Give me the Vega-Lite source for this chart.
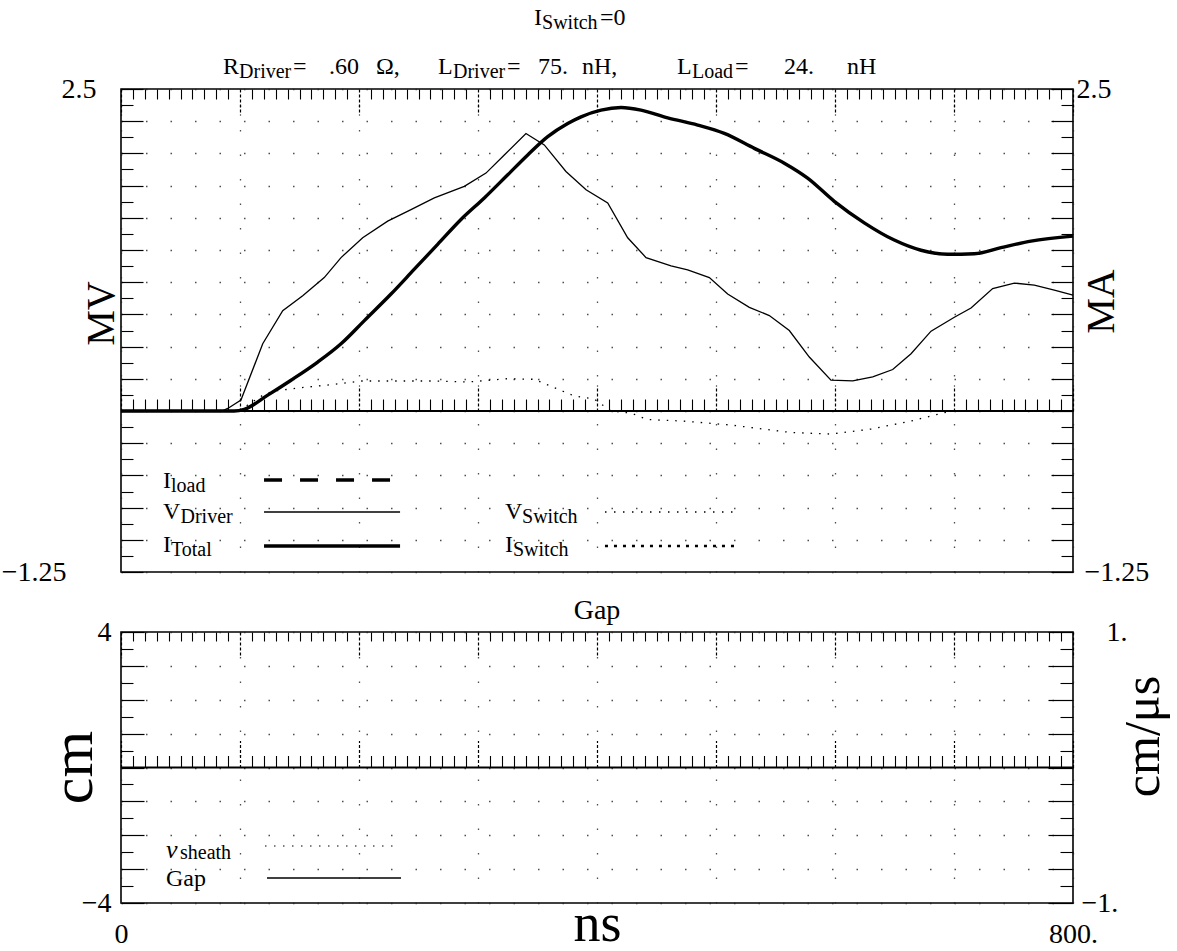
{
  "$schema": "https://vega.github.io/schema/vega-lite/v6.json",
  "background": "white",
  "padding": {"left": 0, "top": 5, "right": 5, "bottom": 0},
  "config": {
    "font": "Liberation Serif",
    "view": {"stroke": "#000", "strokeWidth": 1.6},
    "axis": {"labelFont": "Liberation Serif", "titleFont": "Liberation Serif", "labelColor": "#000", "titleColor": "#000", "tickColor": "#000", "titleFontWeight": "normal", "labelFlush": false, "labelOverlap": false, "tickWidth": 1.1, "gridColor": "#222", "gridDash": [1.5, 23], "gridWidth": 1.3, "gridOpacity": 0.8}
  },
  "datasets": {
    "curves": [
      {"series": "V_Driver", "ns": 0, "v": 0}, {"series": "V_Driver", "ns": 85, "v": 0}, {"series": "V_Driver", "ns": 89.7, "v": 0.02}, {"series": "V_Driver", "ns": 100.8, "v": 0.085}, {"series": "V_Driver", "ns": 119.1, "v": 0.522}, {"series": "V_Driver", "ns": 135.9, "v": 0.779}, {"series": "V_Driver", "ns": 152.7, "v": 0.895}, {"series": "V_Driver", "ns": 170.8, "v": 1.036}, {"series": "V_Driver", "ns": 184.9, "v": 1.191}, {"series": "V_Driver", "ns": 203.1, "v": 1.345}, {"series": "V_Driver", "ns": 224.1, "v": 1.474}, {"series": "V_Driver", "ns": 243.7, "v": 1.564}, {"series": "V_Driver", "ns": 263.3, "v": 1.654}, {"series": "V_Driver", "ns": 288.5, "v": 1.744}, {"series": "V_Driver", "ns": 306.7, "v": 1.847}, {"series": "V_Driver", "ns": 322.1, "v": 1.988}, {"series": "V_Driver", "ns": 340.3, "v": 2.154}, {"series": "V_Driver", "ns": 355.7, "v": 2.066}, {"series": "V_Driver", "ns": 373.9, "v": 1.86}, {"series": "V_Driver", "ns": 390.8, "v": 1.718}, {"series": "V_Driver", "ns": 409, "v": 1.615}, {"series": "V_Driver", "ns": 425.8, "v": 1.345}, {"series": "V_Driver", "ns": 441.2, "v": 1.191}, {"series": "V_Driver", "ns": 462.2, "v": 1.127}, {"series": "V_Driver", "ns": 476.2, "v": 1.096}, {"series": "V_Driver", "ns": 494.4, "v": 1.036}, {"series": "V_Driver", "ns": 509.8, "v": 0.908}, {"series": "V_Driver", "ns": 528, "v": 0.805}, {"series": "V_Driver", "ns": 544.8, "v": 0.741}, {"series": "V_Driver", "ns": 561.6, "v": 0.625}, {"series": "V_Driver", "ns": 578.4, "v": 0.419}, {"series": "V_Driver", "ns": 596.6, "v": 0.239}, {"series": "V_Driver", "ns": 614.9, "v": 0.234}, {"series": "V_Driver", "ns": 631.7, "v": 0.265}, {"series": "V_Driver", "ns": 648.5, "v": 0.322}, {"series": "V_Driver", "ns": 663.9, "v": 0.445}, {"series": "V_Driver", "ns": 680.7, "v": 0.62}, {"series": "V_Driver", "ns": 700.3, "v": 0.728}, {"series": "V_Driver", "ns": 714.3, "v": 0.8}, {"series": "V_Driver", "ns": 732.5, "v": 0.951}, {"series": "V_Driver", "ns": 750.7, "v": 0.993}, {"series": "V_Driver", "ns": 767.5, "v": 0.978}, {"series": "V_Driver", "ns": 784.3, "v": 0.939}, {"series": "V_Driver", "ns": 800, "v": 0.9},
      {"series": "I_Total", "ns": 0, "v": 0}, {"series": "I_Total", "ns": 95, "v": 0}, {"series": "I_Total", "ns": 103.6, "v": 0.013}, {"series": "I_Total", "ns": 123.3, "v": 0.123}, {"series": "I_Total", "ns": 142.9, "v": 0.239}, {"series": "I_Total", "ns": 165.3, "v": 0.38}, {"series": "I_Total", "ns": 184.9, "v": 0.522}, {"series": "I_Total", "ns": 204.5, "v": 0.702}, {"series": "I_Total", "ns": 226.9, "v": 0.908}, {"series": "I_Total", "ns": 246.5, "v": 1.101}, {"series": "I_Total", "ns": 266.1, "v": 1.294}, {"series": "I_Total", "ns": 285.7, "v": 1.487}, {"series": "I_Total", "ns": 305.3, "v": 1.654}, {"series": "I_Total", "ns": 325, "v": 1.834}, {"series": "I_Total", "ns": 341.8, "v": 1.988}, {"series": "I_Total", "ns": 358.6, "v": 2.13}, {"series": "I_Total", "ns": 375.4, "v": 2.232}, {"series": "I_Total", "ns": 386.6, "v": 2.284}, {"series": "I_Total", "ns": 403.4, "v": 2.336}, {"series": "I_Total", "ns": 420.2, "v": 2.356}, {"series": "I_Total", "ns": 437, "v": 2.336}, {"series": "I_Total", "ns": 459.4, "v": 2.276}, {"series": "I_Total", "ns": 484.6, "v": 2.22}, {"series": "I_Total", "ns": 507, "v": 2.155}, {"series": "I_Total", "ns": 532.2, "v": 2.039}, {"series": "I_Total", "ns": 557.4, "v": 1.924}, {"series": "I_Total", "ns": 577, "v": 1.808}, {"series": "I_Total", "ns": 599.4, "v": 1.628}, {"series": "I_Total", "ns": 624.6, "v": 1.461}, {"series": "I_Total", "ns": 649.8, "v": 1.327}, {"series": "I_Total", "ns": 672.3, "v": 1.248}, {"series": "I_Total", "ns": 694.7, "v": 1.217}, {"series": "I_Total", "ns": 717.1, "v": 1.221}, {"series": "I_Total", "ns": 739.5, "v": 1.268}, {"series": "I_Total", "ns": 764.7, "v": 1.319}, {"series": "I_Total", "ns": 800, "v": 1.358},
      {"series": "V_Switch", "ns": 0, "v": 0}, {"series": "V_Switch", "ns": 100, "v": 0}, {"series": "V_Switch", "ns": 106.5, "v": 0.047}, {"series": "V_Switch", "ns": 120.4, "v": 0.13}, {"series": "V_Switch", "ns": 128.8, "v": 0.155}, {"series": "V_Switch", "ns": 151.3, "v": 0.181}, {"series": "V_Switch", "ns": 179.2, "v": 0.207}, {"series": "V_Switch", "ns": 201.7, "v": 0.233}, {"series": "V_Switch", "ns": 235.3, "v": 0.233}, {"series": "V_Switch", "ns": 263, "v": 0.233}, {"series": "V_Switch", "ns": 291.3, "v": 0.225}, {"series": "V_Switch", "ns": 325, "v": 0.251}, {"series": "V_Switch", "ns": 347.3, "v": 0.246}, {"series": "V_Switch", "ns": 364.1, "v": 0.181}, {"series": "V_Switch", "ns": 381, "v": 0.116}, {"series": "V_Switch", "ns": 397.5, "v": 0.093}, {"series": "V_Switch", "ns": 411.8, "v": 0}, {"series": "V_Switch", "ns": 428.6, "v": -0.016}, {"series": "V_Switch", "ns": 442, "v": -0.066}, {"series": "V_Switch", "ns": 472.3, "v": -0.078}, {"series": "V_Switch", "ns": 512.6, "v": -0.109}, {"series": "V_Switch", "ns": 563, "v": -0.167}, {"series": "V_Switch", "ns": 596.6, "v": -0.179}, {"series": "V_Switch", "ns": 630.3, "v": -0.14}, {"series": "V_Switch", "ns": 663.9, "v": -0.078}, {"series": "V_Switch", "ns": 684, "v": -0.031}, {"series": "V_Switch", "ns": 697.5, "v": 0}, {"series": "V_Switch", "ns": 800, "v": 0},
      {"series": "I_Switch", "ns": 0, "v": 0}, {"series": "I_Switch", "ns": 800, "v": 0},
      {"series": "Gap", "ns": 0, "v": 0}, {"series": "Gap", "ns": 800, "v": 0},
      {"series": "nu_sheath", "ns": 0, "v": 0}, {"series": "nu_sheath", "ns": 800, "v": 0}
    ]
  },
  "vconcat": [
    {
      "width": 952,
      "height": 483,
      "resolve": {"axis": {"x": "independent", "y": "independent"}},
      "layer": [
        {
          "data": {"values": [{}]},
          "mark": {"type": "rule", "color": "#000", "strokeWidth": 2},
          "encoding": {
            "y": {"datum": 0, "type": "quantitative", "scale": {"domain": [-1.25, 2.5], "nice": false, "zero": false},
              "axis": {"orient": "right", "values": [-1.25, -1, -0.75, -0.5, -0.25, 0, 0.25, 0.5, 0.75, 1, 1.25, 1.5, 1.75, 2, 2.25, 2.5], "domain": false, "labels": false, "ticks": true, "tickSize": -22, "tickWidth": 1.2, "grid": false, "title": null}}
          }
        },
        {
          "data": {"name": "curves"},
          "transform": [{"filter": "datum.series == 'V_Driver'"}],
          "mark": {"type": "line", "color": "#000", "strokeWidth": 1.3},
          "encoding": {
            "x": {"field": "ns", "type": "quantitative", "scale": {"domain": [0, 800], "nice": false, "zero": false},
              "axis": {"orient": "top", "values": [0, 100, 200, 300, 400, 500, 600, 700, 800], "domain": false, "labels": false, "ticks": true, "tickSize": -26, "tickDash": [3, 2], "tickWidth": 1.2, "grid": true, "title": null}},
            "y": {"field": "v", "type": "quantitative", "scale": {"domain": [-1.25, 2.5], "nice": false, "zero": false},
              "axis": {"orient": "left", "values": [2.5], "labelExpr": "'2.5'", "domain": false, "ticks": false, "grid": false, "labels": true, "labelPadding": 25, "labelFontSize": 28, "title": "MV", "titleFontSize": 40, "titleAngle": 270, "titleAlign": "center", "titleBaseline": "middle", "titleX": -20, "titleY": 224}}
          }
        },
        {
          "data": {"name": "curves"},
          "transform": [{"filter": "datum.series == 'I_Total'"}],
          "mark": {"type": "line", "color": "#000", "strokeWidth": 3.4, "interpolate": "monotone"},
          "encoding": {
            "x": {"field": "ns", "type": "quantitative", "scale": {"domain": [0, 800], "nice": false, "zero": false},
              "axis": {"orient": "top", "values": [10, 20, 30, 40, 50, 60, 70, 80, 90, 110, 120, 130, 140, 150, 160, 170, 180, 190, 210, 220, 230, 240, 250, 260, 270, 280, 290, 310, 320, 330, 340, 350, 360, 370, 380, 390, 410, 420, 430, 440, 450, 460, 470, 480, 490, 510, 520, 530, 540, 550, 560, 570, 580, 590, 610, 620, 630, 640, 650, 660, 670, 680, 690, 710, 720, 730, 740, 750, 760, 770, 780, 790], "domain": false, "labels": false, "ticks": true, "tickSize": -10, "grid": false, "title": null}},
            "y": {"field": "v", "type": "quantitative", "scale": {"domain": [-1.25, 2.5], "nice": false, "zero": false},
              "axis": {"orient": "left", "values": [-1.25], "labelExpr": "'−1.25'", "domain": false, "ticks": false, "grid": false, "labels": true, "labelPadding": 55, "labelFontSize": 28, "title": null}}
          }
        },
        {
          "data": {"name": "curves"},
          "transform": [{"filter": "datum.series == 'V_Switch'"}],
          "mark": {"type": "line", "color": "#000", "strokeWidth": 1.3, "strokeDash": [1.5, 7]},
          "encoding": {
            "x": {"field": "ns", "type": "quantitative", "scale": {"domain": [0, 800], "nice": false, "zero": false},
              "axis": {"orient": "top", "offset": -322, "values": [0, 100, 200, 300, 400, 500, 600, 700, 800], "domain": false, "labels": false, "ticks": true, "tickSize": 26, "tickDash": [3, 2], "tickWidth": 1.2, "grid": false, "title": null}},
            "y": {"field": "v", "type": "quantitative", "scale": {"domain": [-1.25, 2.5], "nice": false, "zero": false},
              "axis": {"orient": "left", "values": [-1.25, -1, -0.75, -0.5, -0.25, 0, 0.25, 0.5, 0.75, 1, 1.25, 1.5, 1.75, 2, 2.25, 2.5], "domain": false, "labels": false, "ticks": true, "tickSize": -22, "tickWidth": 1.2, "grid": true, "title": null}}
          }
        },
        {
          "data": {"name": "curves"},
          "transform": [{"filter": "datum.series == 'I_Switch'"}],
          "mark": {"type": "line", "color": "#000", "strokeWidth": 2.2, "strokeDash": [3, 6]},
          "encoding": {
            "x": {"field": "ns", "type": "quantitative", "scale": {"domain": [0, 800], "nice": false, "zero": false},
              "axis": {"orient": "top", "offset": -322, "values": [10, 20, 30, 40, 50, 60, 70, 80, 90, 110, 120, 130, 140, 150, 160, 170, 180, 190, 210, 220, 230, 240, 250, 260, 270, 280, 290, 310, 320, 330, 340, 350, 360, 370, 380, 390, 410, 420, 430, 440, 450, 460, 470, 480, 490, 510, 520, 530, 540, 550, 560, 570, 580, 590, 610, 620, 630, 640, 650, 660, 670, 680, 690, 710, 720, 730, 740, 750, 760, 770, 780, 790], "domain": false, "labels": false, "ticks": true, "tickSize": 12, "grid": false, "title": null}},
            "y": {"field": "v", "type": "quantitative", "scale": {"domain": [-1.25, 2.5], "nice": false, "zero": false},
              "axis": {"orient": "left", "values": [-1.125, -0.875, -0.625, -0.375, -0.125, 0.125, 0.375, 0.625, 0.875, 1.125, 1.375, 1.625, 1.875, 2.125, 2.375], "domain": false, "labels": false, "ticks": true, "tickSize": -12, "grid": false, "title": null}}
          }
        },
        {
          "data": {"values": [{}]},
          "mark": {"type": "rule", "color": "#000", "strokeWidth": 3.6, "strokeDash": [18, 18]},
          "encoding": {
            "x": {"datum": 120.2, "type": "quantitative", "scale": {"domain": [0, 800], "nice": false, "zero": false}, "axis": null},
            "x2": {"datum": 226.9},
            "y": {"datum": -0.536, "type": "quantitative", "scale": {"domain": [-1.25, 2.5], "nice": false, "zero": false},
              "axis": {"orient": "right", "values": [-1.125, -0.875, -0.625, -0.375, -0.125, 0.125, 0.375, 0.625, 0.875, 1.125, 1.375, 1.625, 1.875, 2.125, 2.375], "domain": false, "labels": false, "ticks": true, "tickSize": -12, "grid": false, "title": null}}
          }
        },
        {
          "data": {"values": [{}]},
          "mark": {"type": "rule", "color": "#000", "strokeWidth": 1.3},
          "encoding": {
            "x": {"datum": 120.2, "type": "quantitative", "scale": {"domain": [0, 800], "nice": false, "zero": false}, "axis": null},
            "x2": {"datum": 234.5},
            "y": {"datum": -0.784, "type": "quantitative", "scale": {"domain": [-1.25, 2.5], "nice": false, "zero": false},
              "axis": {"orient": "right", "values": [2.5], "labelExpr": "'2.5'", "domain": false, "ticks": false, "grid": false, "labels": true, "labelPadding": 3, "labelFontSize": 28, "title": "MA", "titleFontSize": 40, "titleAngle": 270, "titleAlign": "center", "titleBaseline": "middle", "titleX": 28, "titleY": 212}}
          }
        },
        {
          "data": {"values": [{}]},
          "mark": {"type": "rule", "color": "#000", "strokeWidth": 3.4},
          "encoding": {
            "x": {"datum": 120.2, "type": "quantitative", "scale": {"domain": [0, 800], "nice": false, "zero": false}, "axis": null},
            "x2": {"datum": 234.5},
            "y": {"datum": -1.048, "type": "quantitative", "scale": {"domain": [-1.25, 2.5], "nice": false, "zero": false},
              "axis": {"orient": "right", "values": [-1.25], "labelExpr": "'−1.25'", "domain": false, "ticks": false, "grid": false, "labels": true, "labelPadding": 11, "labelFontSize": 28, "title": null}}
          }
        },
        {
          "data": {"values": [{}]},
          "mark": {"type": "rule", "color": "#000", "strokeWidth": 1.3, "strokeDash": [1.5, 7.5]},
          "encoding": {
            "x": {"datum": 406.7, "type": "quantitative", "scale": {"domain": [0, 800], "nice": false, "zero": false}, "axis": null},
            "x2": {"datum": 517.6},
            "y": {"datum": -0.784, "type": "quantitative", "scale": {"domain": [-1.25, 2.5], "nice": false, "zero": false}, "axis": null}
          }
        },
        {
          "data": {"values": [{}]},
          "mark": {"type": "rule", "color": "#000", "strokeWidth": 2.4, "strokeDash": [3, 6]},
          "encoding": {
            "x": {"datum": 406.7, "type": "quantitative", "scale": {"domain": [0, 800], "nice": false, "zero": false}, "axis": null},
            "x2": {"datum": 517.6},
            "y": {"datum": -1.048, "type": "quantitative", "scale": {"domain": [-1.25, 2.5], "nice": false, "zero": false}, "axis": null}
          }
        },
        {"data": {"values": [{}]}, "mark": {"type": "text", "text": "I", "align": "left", "baseline": "alphabetic", "fontSize": 24, "color": "#000"},
         "encoding": {"x": {"datum": 347.1, "type": "quantitative", "scale": {"domain": [0, 800], "nice": false, "zero": false}, "axis": null}, "y": {"datum": 2.997, "type": "quantitative", "scale": {"domain": [-1.25, 2.5], "nice": false, "zero": false}, "axis": null}}},
        {"data": {"values": [{}]}, "mark": {"type": "text", "text": "Switch", "align": "left", "baseline": "alphabetic", "fontSize": 20, "color": "#000"},
         "encoding": {"x": {"datum": 353.8, "type": "quantitative", "scale": {"domain": [0, 800], "nice": false, "zero": false}, "axis": null}, "y": {"datum": 2.966, "type": "quantitative", "scale": {"domain": [-1.25, 2.5], "nice": false, "zero": false}, "axis": null}}},
        {"data": {"values": [{}]}, "mark": {"type": "text", "text": "=0", "align": "left", "baseline": "alphabetic", "fontSize": 24, "color": "#000"},
         "encoding": {"x": {"datum": 402.5, "type": "quantitative", "scale": {"domain": [0, 800], "nice": false, "zero": false}, "axis": null}, "y": {"datum": 2.997, "type": "quantitative", "scale": {"domain": [-1.25, 2.5], "nice": false, "zero": false}, "axis": null}}},
        {"data": {"values": [{}]}, "mark": {"type": "text", "text": "R", "align": "left", "baseline": "alphabetic", "fontSize": 24, "color": "#000"},
         "encoding": {"x": {"datum": 85.7, "type": "quantitative", "scale": {"domain": [0, 800], "nice": false, "zero": false}, "axis": null}, "y": {"datum": 2.616, "type": "quantitative", "scale": {"domain": [-1.25, 2.5], "nice": false, "zero": false}, "axis": null}}},
        {"data": {"values": [{}]}, "mark": {"type": "text", "text": "Driver", "align": "left", "baseline": "alphabetic", "fontSize": 20, "color": "#000"},
         "encoding": {"x": {"datum": 99.2, "type": "quantitative", "scale": {"domain": [0, 800], "nice": false, "zero": false}, "axis": null}, "y": {"datum": 2.585, "type": "quantitative", "scale": {"domain": [-1.25, 2.5], "nice": false, "zero": false}, "axis": null}}},
        {"data": {"values": [{}]}, "mark": {"type": "text", "text": "=", "align": "left", "baseline": "alphabetic", "fontSize": 24, "color": "#000"},
         "encoding": {"x": {"datum": 144.5, "type": "quantitative", "scale": {"domain": [0, 800], "nice": false, "zero": false}, "axis": null}, "y": {"datum": 2.616, "type": "quantitative", "scale": {"domain": [-1.25, 2.5], "nice": false, "zero": false}, "axis": null}}},
        {"data": {"values": [{}]}, "mark": {"type": "text", "text": ".60", "align": "left", "baseline": "alphabetic", "fontSize": 24, "color": "#000"},
         "encoding": {"x": {"datum": 174.8, "type": "quantitative", "scale": {"domain": [0, 800], "nice": false, "zero": false}, "axis": null}, "y": {"datum": 2.616, "type": "quantitative", "scale": {"domain": [-1.25, 2.5], "nice": false, "zero": false}, "axis": null}}},
        {"data": {"values": [{}]}, "mark": {"type": "text", "text": "Ω,", "align": "left", "baseline": "alphabetic", "fontSize": 24, "color": "#000"},
         "encoding": {"x": {"datum": 214.3, "type": "quantitative", "scale": {"domain": [0, 800], "nice": false, "zero": false}, "axis": null}, "y": {"datum": 2.616, "type": "quantitative", "scale": {"domain": [-1.25, 2.5], "nice": false, "zero": false}, "axis": null}}},
        {"data": {"values": [{}]}, "mark": {"type": "text", "text": "L", "align": "left", "baseline": "alphabetic", "fontSize": 24, "color": "#000"},
         "encoding": {"x": {"datum": 266.4, "type": "quantitative", "scale": {"domain": [0, 800], "nice": false, "zero": false}, "axis": null}, "y": {"datum": 2.616, "type": "quantitative", "scale": {"domain": [-1.25, 2.5], "nice": false, "zero": false}, "axis": null}}},
        {"data": {"values": [{}]}, "mark": {"type": "text", "text": "Driver", "align": "left", "baseline": "alphabetic", "fontSize": 20, "color": "#000"},
         "encoding": {"x": {"datum": 279.0, "type": "quantitative", "scale": {"domain": [0, 800], "nice": false, "zero": false}, "axis": null}, "y": {"datum": 2.585, "type": "quantitative", "scale": {"domain": [-1.25, 2.5], "nice": false, "zero": false}, "axis": null}}},
        {"data": {"values": [{}]}, "mark": {"type": "text", "text": "=", "align": "left", "baseline": "alphabetic", "fontSize": 24, "color": "#000"},
         "encoding": {"x": {"datum": 324.4, "type": "quantitative", "scale": {"domain": [0, 800], "nice": false, "zero": false}, "axis": null}, "y": {"datum": 2.616, "type": "quantitative", "scale": {"domain": [-1.25, 2.5], "nice": false, "zero": false}, "axis": null}}},
        {"data": {"values": [{}]}, "mark": {"type": "text", "text": "75.", "align": "left", "baseline": "alphabetic", "fontSize": 24, "color": "#000"},
         "encoding": {"x": {"datum": 350.4, "type": "quantitative", "scale": {"domain": [0, 800], "nice": false, "zero": false}, "axis": null}, "y": {"datum": 2.616, "type": "quantitative", "scale": {"domain": [-1.25, 2.5], "nice": false, "zero": false}, "axis": null}}},
        {"data": {"values": [{}]}, "mark": {"type": "text", "text": "nH,", "align": "left", "baseline": "alphabetic", "fontSize": 24, "color": "#000"},
         "encoding": {"x": {"datum": 387.4, "type": "quantitative", "scale": {"domain": [0, 800], "nice": false, "zero": false}, "axis": null}, "y": {"datum": 2.616, "type": "quantitative", "scale": {"domain": [-1.25, 2.5], "nice": false, "zero": false}, "axis": null}}},
        {"data": {"values": [{}]}, "mark": {"type": "text", "text": "L", "align": "left", "baseline": "alphabetic", "fontSize": 24, "color": "#000"},
         "encoding": {"x": {"datum": 467.2, "type": "quantitative", "scale": {"domain": [0, 800], "nice": false, "zero": false}, "axis": null}, "y": {"datum": 2.616, "type": "quantitative", "scale": {"domain": [-1.25, 2.5], "nice": false, "zero": false}, "axis": null}}},
        {"data": {"values": [{}]}, "mark": {"type": "text", "text": "Load", "align": "left", "baseline": "alphabetic", "fontSize": 20, "color": "#000"},
         "encoding": {"x": {"datum": 479.8, "type": "quantitative", "scale": {"domain": [0, 800], "nice": false, "zero": false}, "axis": null}, "y": {"datum": 2.585, "type": "quantitative", "scale": {"domain": [-1.25, 2.5], "nice": false, "zero": false}, "axis": null}}},
        {"data": {"values": [{}]}, "mark": {"type": "text", "text": "=", "align": "left", "baseline": "alphabetic", "fontSize": 24, "color": "#000"},
         "encoding": {"x": {"datum": 516.0, "type": "quantitative", "scale": {"domain": [0, 800], "nice": false, "zero": false}, "axis": null}, "y": {"datum": 2.616, "type": "quantitative", "scale": {"domain": [-1.25, 2.5], "nice": false, "zero": false}, "axis": null}}},
        {"data": {"values": [{}]}, "mark": {"type": "text", "text": "24.", "align": "left", "baseline": "alphabetic", "fontSize": 24, "color": "#000"},
         "encoding": {"x": {"datum": 557.1, "type": "quantitative", "scale": {"domain": [0, 800], "nice": false, "zero": false}, "axis": null}, "y": {"datum": 2.616, "type": "quantitative", "scale": {"domain": [-1.25, 2.5], "nice": false, "zero": false}, "axis": null}}},
        {"data": {"values": [{}]}, "mark": {"type": "text", "text": "nH", "align": "left", "baseline": "alphabetic", "fontSize": 24, "color": "#000"},
         "encoding": {"x": {"datum": 610.1, "type": "quantitative", "scale": {"domain": [0, 800], "nice": false, "zero": false}, "axis": null}, "y": {"datum": 2.616, "type": "quantitative", "scale": {"domain": [-1.25, 2.5], "nice": false, "zero": false}, "axis": null}}},
        {"data": {"values": [{}]}, "mark": {"type": "text", "text": "I", "align": "left", "baseline": "alphabetic", "fontSize": 24, "color": "#000"},
         "encoding": {"x": {"datum": 35.3, "type": "quantitative", "scale": {"domain": [0, 800], "nice": false, "zero": false}, "axis": null}, "y": {"datum": -0.598, "type": "quantitative", "scale": {"domain": [-1.25, 2.5], "nice": false, "zero": false}, "axis": null}}},
        {"data": {"values": [{}]}, "mark": {"type": "text", "text": "load", "align": "left", "baseline": "alphabetic", "fontSize": 20, "color": "#000"},
         "encoding": {"x": {"datum": 42.0, "type": "quantitative", "scale": {"domain": [0, 800], "nice": false, "zero": false}, "axis": null}, "y": {"datum": -0.629, "type": "quantitative", "scale": {"domain": [-1.25, 2.5], "nice": false, "zero": false}, "axis": null}}},
        {"data": {"values": [{}]}, "mark": {"type": "text", "text": "V", "align": "left", "baseline": "alphabetic", "fontSize": 24, "color": "#000"},
         "encoding": {"x": {"datum": 35.3, "type": "quantitative", "scale": {"domain": [0, 800], "nice": false, "zero": false}, "axis": null}, "y": {"datum": -0.839, "type": "quantitative", "scale": {"domain": [-1.25, 2.5], "nice": false, "zero": false}, "axis": null}}},
        {"data": {"values": [{}]}, "mark": {"type": "text", "text": "Driver", "align": "left", "baseline": "alphabetic", "fontSize": 20, "color": "#000"},
         "encoding": {"x": {"datum": 50.0, "type": "quantitative", "scale": {"domain": [0, 800], "nice": false, "zero": false}, "axis": null}, "y": {"datum": -0.87, "type": "quantitative", "scale": {"domain": [-1.25, 2.5], "nice": false, "zero": false}, "axis": null}}},
        {"data": {"values": [{}]}, "mark": {"type": "text", "text": "I", "align": "left", "baseline": "alphabetic", "fontSize": 24, "color": "#000"},
         "encoding": {"x": {"datum": 35.3, "type": "quantitative", "scale": {"domain": [0, 800], "nice": false, "zero": false}, "axis": null}, "y": {"datum": -1.095, "type": "quantitative", "scale": {"domain": [-1.25, 2.5], "nice": false, "zero": false}, "axis": null}}},
        {"data": {"values": [{}]}, "mark": {"type": "text", "text": "Total", "align": "left", "baseline": "alphabetic", "fontSize": 20, "color": "#000"},
         "encoding": {"x": {"datum": 42.0, "type": "quantitative", "scale": {"domain": [0, 800], "nice": false, "zero": false}, "axis": null}, "y": {"datum": -1.126, "type": "quantitative", "scale": {"domain": [-1.25, 2.5], "nice": false, "zero": false}, "axis": null}}},
        {"data": {"values": [{}]}, "mark": {"type": "text", "text": "V", "align": "left", "baseline": "alphabetic", "fontSize": 24, "color": "#000"},
         "encoding": {"x": {"datum": 322.7, "type": "quantitative", "scale": {"domain": [0, 800], "nice": false, "zero": false}, "axis": null}, "y": {"datum": -0.839, "type": "quantitative", "scale": {"domain": [-1.25, 2.5], "nice": false, "zero": false}, "axis": null}}},
        {"data": {"values": [{}]}, "mark": {"type": "text", "text": "Switch", "align": "left", "baseline": "alphabetic", "fontSize": 20, "color": "#000"},
         "encoding": {"x": {"datum": 337.0, "type": "quantitative", "scale": {"domain": [0, 800], "nice": false, "zero": false}, "axis": null}, "y": {"datum": -0.87, "type": "quantitative", "scale": {"domain": [-1.25, 2.5], "nice": false, "zero": false}, "axis": null}}},
        {"data": {"values": [{}]}, "mark": {"type": "text", "text": "I", "align": "left", "baseline": "alphabetic", "fontSize": 24, "color": "#000"},
         "encoding": {"x": {"datum": 322.7, "type": "quantitative", "scale": {"domain": [0, 800], "nice": false, "zero": false}, "axis": null}, "y": {"datum": -1.095, "type": "quantitative", "scale": {"domain": [-1.25, 2.5], "nice": false, "zero": false}, "axis": null}}},
        {"data": {"values": [{}]}, "mark": {"type": "text", "text": "Switch", "align": "left", "baseline": "alphabetic", "fontSize": 20, "color": "#000"},
         "encoding": {"x": {"datum": 329.4, "type": "quantitative", "scale": {"domain": [0, 800], "nice": false, "zero": false}, "axis": null}, "y": {"datum": -1.126, "type": "quantitative", "scale": {"domain": [-1.25, 2.5], "nice": false, "zero": false}, "axis": null}}}
      ]
    },
    {
      "width": 952,
      "height": 271,
      "title": {"text": "Gap", "fontSize": 28, "fontWeight": "normal", "font": "Liberation Serif", "color": "#000", "offset": 3, "dy": 10},
      "resolve": {"axis": {"x": "independent", "y": "independent"}},
      "layer": [
        {
          "data": {"name": "curves"},
          "transform": [{"filter": "datum.series == 'Gap'"}],
          "mark": {"type": "line", "color": "#000", "strokeWidth": 1.8},
          "encoding": {
            "x": {"field": "ns", "type": "quantitative", "scale": {"domain": [0, 800], "nice": false, "zero": false},
              "axis": {"orient": "bottom", "values": [0, 800], "labelExpr": "datum.value == 0 ? '0' : '800.'", "domain": false, "ticks": false, "grid": false, "labels": true, "labelPadding": 17, "labelFontSize": 28, "title": "ns", "titleFontSize": 54, "titleAlign": "center", "titleBaseline": "alphabetic", "titleX": 476, "titleY": 37}},
            "y": {"field": "v", "type": "quantitative", "scale": {"domain": [-4, 4], "nice": false, "zero": false},
              "axis": {"orient": "left", "values": [4, -4], "labelExpr": "datum.value > 0 ? '4' : '−4'", "domain": false, "ticks": false, "grid": false, "labels": true, "labelPadding": 10, "labelFontSize": 28, "title": "cm", "titleFontSize": 60, "titleAngle": 270, "titleAlign": "center", "titleBaseline": "middle", "titleX": -48, "titleY": 135}}
          }
        },
        {
          "data": {"name": "curves"},
          "transform": [{"filter": "datum.series == 'nu_sheath'"}],
          "mark": {"type": "line", "color": "#000", "strokeWidth": 1.2, "strokeDash": [1.5, 7.5]},
          "encoding": {
            "x": {"field": "ns", "type": "quantitative", "scale": {"domain": [0, 800], "nice": false, "zero": false},
              "axis": {"orient": "top", "values": [0, 100, 200, 300, 400, 500, 600, 700, 800], "domain": false, "labels": false, "ticks": true, "tickSize": -25, "tickDash": [3, 2], "tickWidth": 1.2, "grid": true, "title": null}},
            "y": {"field": "v", "type": "quantitative", "scale": {"domain": [-4, 4], "nice": false, "zero": false},
              "axis": {"orient": "left", "values": [-4, -3, -2, -1, 0, 1, 2, 3, 4], "domain": false, "labels": false, "ticks": true, "tickSize": -23, "tickWidth": 1.2, "grid": true, "title": null}}
          }
        },
        {
          "data": {"values": [{}]},
          "mark": {"type": "rule", "color": "#000", "strokeWidth": 1.2, "strokeDash": [1.5, 7.5]},
          "encoding": {
            "x": {"datum": 121, "type": "quantitative", "scale": {"domain": [0, 800], "nice": false, "zero": false},
              "axis": {"orient": "top", "values": [10, 20, 30, 40, 50, 60, 70, 80, 90, 110, 120, 130, 140, 150, 160, 170, 180, 190, 210, 220, 230, 240, 250, 260, 270, 280, 290, 310, 320, 330, 340, 350, 360, 370, 380, 390, 410, 420, 430, 440, 450, 460, 470, 480, 490, 510, 520, 530, 540, 550, 560, 570, 580, 590, 610, 620, 630, 640, 650, 660, 670, 680, 690, 710, 720, 730, 740, 750, 760, 770, 780, 790], "domain": false, "labels": false, "ticks": true, "tickSize": -9, "grid": false, "title": null}},
            "x2": {"datum": 232},
            "y": {"datum": -2.317, "type": "quantitative", "scale": {"domain": [-4, 4], "nice": false, "zero": false},
              "axis": {"orient": "left", "values": [-3.5, -2.5, -1.5, -0.5, 0.5, 1.5, 2.5, 3.5], "domain": false, "labels": false, "ticks": true, "tickSize": -12, "grid": false, "title": null}}
          }
        },
        {
          "data": {"values": [{}]},
          "mark": {"type": "rule", "color": "#000", "strokeWidth": 1.5},
          "encoding": {
            "x": {"datum": 122.7, "type": "quantitative", "scale": {"domain": [0, 800], "nice": false, "zero": false},
              "axis": {"orient": "top", "offset": -135.5, "values": [0, 100, 200, 300, 400, 500, 600, 700, 800], "domain": false, "labels": false, "ticks": true, "tickSize": 27, "tickDash": [3, 2], "tickWidth": 1.2, "grid": false, "title": null}},
            "x2": {"datum": 235.3},
            "y": {"datum": -3.262, "type": "quantitative", "scale": {"domain": [-4, 4], "nice": false, "zero": false},
              "axis": {"orient": "right", "values": [4], "labelExpr": "'1.'", "domain": false, "ticks": false, "grid": false, "labels": true, "labelPadding": 33, "labelFontSize": 28, "title": "cm/μs", "titleFontSize": 50, "titleAngle": 270, "titleAlign": "center", "titleBaseline": "middle", "titleX": 70, "titleY": 104}}
          }
        },
        {"data": {"values": [{}]}, "mark": {"type": "text", "text": "ν", "align": "left", "baseline": "alphabetic", "fontSize": 26, "fontStyle": "italic", "color": "#000"},
         "encoding": {
           "x": {"datum": 37.8, "type": "quantitative", "scale": {"domain": [0, 800], "nice": false, "zero": false},
             "axis": {"orient": "top", "offset": -135.5, "values": [10, 20, 30, 40, 50, 60, 70, 80, 90, 110, 120, 130, 140, 150, 160, 170, 180, 190, 210, 220, 230, 240, 250, 260, 270, 280, 290, 310, 320, 330, 340, 350, 360, 370, 380, 390, 410, 420, 430, 440, 450, 460, 470, 480, 490, 510, 520, 530, 540, 550, 560, 570, 580, 590, 610, 620, 630, 640, 650, 660, 670, 680, 690, 710, 720, 730, 740, 750, 760, 770, 780, 790], "domain": false, "labels": false, "ticks": true, "tickSize": 12, "grid": false, "title": null}},
           "y": {"datum": -2.662, "type": "quantitative", "scale": {"domain": [-4, 4], "nice": false, "zero": false},
             "axis": {"orient": "right", "values": [-4], "labelExpr": "'−1.'", "domain": false, "ticks": false, "grid": false, "labels": true, "labelPadding": 8, "labelFontSize": 28, "title": null}}}},
        {"data": {"values": [{}]}, "mark": {"type": "text", "text": "sheath", "align": "left", "baseline": "alphabetic", "fontSize": 20, "color": "#000"},
         "encoding": {
           "x": {"datum": 49.6, "type": "quantitative", "scale": {"domain": [0, 800], "nice": false, "zero": false}, "axis": null},
           "y": {"datum": -2.692, "type": "quantitative", "scale": {"domain": [-4, 4], "nice": false, "zero": false},
             "axis": {"orient": "right", "values": [-4, -3, -2, -1, 0, 1, 2, 3, 4], "domain": false, "labels": false, "ticks": true, "tickSize": -25, "tickWidth": 1.2, "grid": false, "title": null}}}},
        {"data": {"values": [{}]}, "mark": {"type": "text", "text": "Gap", "align": "left", "baseline": "alphabetic", "fontSize": 24, "color": "#000"},
         "encoding": {
           "x": {"datum": 37.8, "type": "quantitative", "scale": {"domain": [0, 800], "nice": false, "zero": false}, "axis": null},
           "y": {"datum": -3.498, "type": "quantitative", "scale": {"domain": [-4, 4], "nice": false, "zero": false},
             "axis": {"orient": "right", "values": [-3.5, -2.5, -1.5, -0.5, 0.5, 1.5, 2.5, 3.5], "domain": false, "labels": false, "ticks": true, "tickSize": -13, "grid": false, "title": null}}}}
      ]
    }
  ],
  "spacing": 60,
  "bounds": "flush"
}
